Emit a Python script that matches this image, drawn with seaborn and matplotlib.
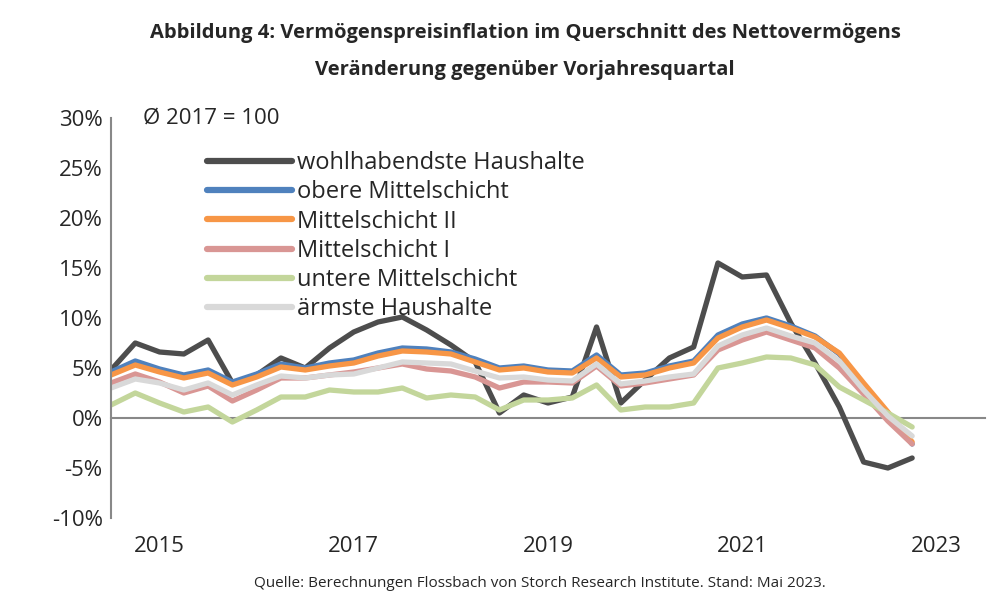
import matplotlib
matplotlib.use("Agg")
import matplotlib.pyplot as plt
import seaborn as sns
import pandas as pd
import numpy as np
import matplotlib.transforms as mtrans
from matplotlib.lines import Line2D

sns.set_theme(style="white")
plt.rcParams['font.family'] = ['Open Sans', 'DejaVu Sans']

quarters = list(range(34))  # 2015Q1 ... 2023Q2 (quarter index)
wohlhabend = [4.8,7.5,6.6,6.4,7.8,3.5,4.3,6.0,5.0,7.0,8.6,9.6,10.1,8.8,7.3,5.6,0.5,2.3,1.5,2.1,9.1,1.5,3.8,6.0,7.1,15.5,14.1,14.3,9.5,5.5,1.1,-4.4,-5.0,-4.0]
obere = [4.6,5.7,4.9,4.3,4.8,3.6,4.4,5.4,5.0,5.5,5.8,6.5,7.0,6.9,6.6,5.9,5.0,5.2,4.8,4.7,6.3,4.3,4.5,5.2,5.7,8.3,9.4,10.0,9.2,8.2,6.4,3.3,0.4,-2.6]
mittel2 = [4.3,5.3,4.6,4.0,4.5,3.3,4.1,5.1,4.8,5.2,5.5,6.2,6.7,6.6,6.4,5.6,4.8,5.0,4.6,4.5,6.0,4.1,4.3,5.0,5.5,8.0,9.1,9.8,9.0,8.1,6.5,3.5,0.6,-2.4]
mittel1 = [3.5,4.4,3.6,2.5,3.2,1.7,2.8,4.0,4.0,4.3,4.6,5.0,5.4,4.9,4.7,4.1,3.0,3.6,3.6,3.5,5.2,3.2,3.5,3.9,4.3,6.8,7.8,8.6,7.8,7.0,5.0,2.4,-0.3,-2.6]
untere = [1.3,2.5,1.5,0.6,1.1,-0.4,0.8,2.1,2.1,2.8,2.6,2.6,3.0,2.0,2.3,2.1,0.8,1.8,1.8,2.0,3.3,0.8,1.1,1.1,1.5,5.0,5.5,6.1,6.0,5.3,3.1,1.8,0.5,-0.9]
aermste = [3.0,3.9,3.5,2.8,3.5,2.3,3.3,4.2,4.0,4.3,4.4,5.0,5.6,5.5,5.4,4.7,4.0,4.1,3.8,3.7,5.4,3.4,3.7,4.1,4.4,7.2,8.3,9.0,8.2,7.5,5.7,2.8,0.2,-1.8]

names = ["wohlhabendste Haushalte","obere Mittelschicht","Mittelschicht II","Mittelschicht I","untere Mittelschicht","ärmste Haushalte"]
series = [wohlhabend, obere, mittel2, mittel1, untere, aermste]
colors = ["#4d4d4d","#4f81bd","#f79646","#d99694","#c3d69b","#d9d9d9"]
year_labels = ["2015","2017","2019","2021","2023"]
ytick_vals = [-10,-5,0,5,10,15,20,25,30]

df = pd.concat([pd.DataFrame({"q": quarters, "v": s, "name": n}) for n, s in zip(names, series)])

fig = plt.figure(figsize=(10, 6.08), dpi=100)
ax = fig.add_axes([0.111, 0.148, 0.874, 0.658])
sns.lineplot(data=df, x="q", y="v", hue="name", palette=dict(zip(names, colors)),
             linewidth=3.8, ax=ax, legend=False, sort=False)

ax.set_xlim(0, 36)
ax.set_ylim(-10, 30)
ax.set_yticks(ytick_vals)
ax.set_yticklabels([f"{v}%" for v in ytick_vals], fontsize=16)
ax.set_xlabel(""); ax.set_ylabel("")
for s in ["top", "right"]:
    ax.spines[s].set_visible(False)
ax.spines["left"].set_color("#888888"); ax.spines["left"].set_linewidth(1.5)
ax.spines["bottom"].set_position(("data", 0))
ax.spines["bottom"].set_color("#888888"); ax.spines["bottom"].set_linewidth(1.5)
ax.spines["bottom"].set_zorder(0)
ax.set_xticks(np.arange(0, 37, 4))
ax.set_xticks(np.arange(0, 37, 1), minor=True)
ax.tick_params(axis="x", which="major", direction="out", length=9, width=1.5, color="#888888", labelbottom=False)
ax.tick_params(axis="x", which="minor", direction="out", length=5, width=1.2, color="#888888")
ax.tick_params(axis="y", length=0, pad=6)
tr = mtrans.blended_transform_factory(ax.transData, ax.transAxes)
for k, lab in enumerate(year_labels):
    ax.text(2 + 8 * k, -0.07, lab, transform=tr, ha="center", va="center", fontsize=16)

handles = [Line2D([0], [0], color=c, lw=4.5) for c in colors]
ax.legend(handles, names, loc="upper left", bbox_to_anchor=(0.085, 0.97), frameon=False,
          fontsize=17, handlelength=3.6, handletextpad=0.25, labelspacing=0.22)
ax.text(0.037, 1.0, "Ø 2017 = 100", transform=ax.transAxes, fontsize=16, va="center")

fig.text(0.525, 0.946, "Abbildung 4: Vermögenspreisinflation im Querschnitt des Nettovermögens",
         ha="center", va="center", fontsize=14.5, fontweight="bold")
fig.text(0.525, 0.885, "Veränderung gegenüber Vorjahresquartal",
         ha="center", va="center", fontsize=14.5, fontweight="bold")
fig.text(0.54, 0.04, "Quelle: Berechnungen Flossbach von Storch Research Institute. Stand: Mai 2023.",
         ha="center", va="center", fontsize=11)

fig.savefig("out.png", dpi=100)
